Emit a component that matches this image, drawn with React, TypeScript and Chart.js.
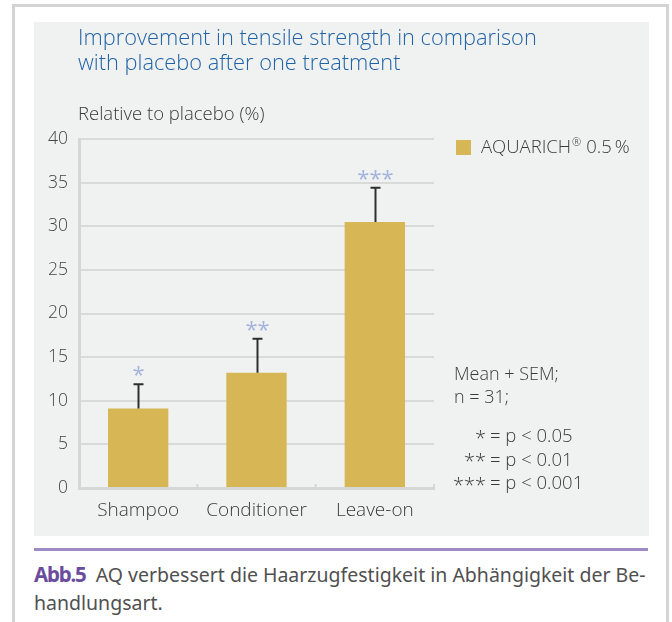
import React, { useEffect, useRef } from "react";
import { Chart, registerables } from "chart.js";

Chart.register(...registerables);

const categories = ["Shampoo", "Conditioner", "Leave-on"];
const meanValues = [9.1, 13.2, 30.5];
const semValues = [2.8, 3.9, 3.9];
const significance = ["*", "**", "***"];
const seriesLabel = "AQUARICH";
const yTicks = [0, 5, 10, 15, 20, 25, 30, 35, 40];
const titleLines = ["Improvement in tensile strength in comparison", "with placebo after one treatment"];
const yTitle = "Relative to placebo (%)";
const noteLines = ["Mean + SEM;", "n = 31;"];
const pLegend = [["*", "= p < 0.05"], ["**", "= p < 0.01"], ["***", "= p < 0.001"]];

const FONT = "'Open Sans', 'Noto Sans', sans-serif";
const BAR = "#d6b655";
const TEXT = "#3a3a3a";

const overlayPlugin = {
  id: "overlay",
  afterDatasetsDraw(chart: any) {
    const ctx = chart.ctx;
    const x = chart.scales.x;
    const y = chart.scales.y;
    const area = chart.chartArea;
    ctx.save();
    ctx.strokeStyle = "#d6d6d6";
    ctx.lineWidth = 2;
    const step = x.getPixelForValue(1) - x.getPixelForValue(0);
    for (let i = 0; i < categories.length; i++) {
      const bx = x.getPixelForValue(i) + step / 2;
      ctx.beginPath();
      ctx.moveTo(bx, area.bottom);
      ctx.lineTo(bx, area.bottom - 4);
      ctx.stroke();
    }
    ctx.strokeStyle = "#2e2e2e";
    ctx.lineWidth = 2;
    for (let i = 0; i < meanValues.length; i++) {
      const cx = Math.round(x.getPixelForValue(i)) + 0.5;
      const top = y.getPixelForValue(meanValues[i] + semValues[i]);
      const base = y.getPixelForValue(meanValues[i]);
      ctx.beginPath();
      ctx.moveTo(cx, base);
      ctx.lineTo(cx, top);
      ctx.moveTo(cx - 5, top);
      ctx.lineTo(cx + 5, top);
      ctx.stroke();
      ctx.fillStyle = "#a3b3dc";
      ctx.font = `400 22px ${FONT}`;
      ctx.textAlign = "center";
      ctx.textBaseline = "alphabetic";
      ctx.fillText(significance[i], cx, top - 2);
    }
    ctx.restore();
  },
  afterDraw(chart: any) {
    const ctx = chart.ctx;
    const area = chart.chartArea;
    ctx.save();
    ctx.textBaseline = "middle";
    ctx.textAlign = "left";
    ctx.fillStyle = "#2263a6";
    ctx.font = `300 21.8px ${FONT}`;
    ctx.fillText(titleLines[0], 44, 17);
    ctx.fillText(titleLines[1], 44, 42);
    ctx.fillStyle = TEXT;
    ctx.font = `300 18.5px ${FONT}`;
    ctx.fillText(yTitle, 44, 93);
    const lx = area.right + 22;
    const ly = area.top + 8;
    ctx.fillStyle = chart.data.datasets[0].backgroundColor;
    ctx.fillRect(lx, ly - 7, 15, 15);
    ctx.fillStyle = TEXT;
    ctx.font = `300 18.5px ${FONT}`;
    const t1 = chart.data.datasets[0].label;
    ctx.fillText(t1, lx + 25, ly + 1);
    const w = ctx.measureText(t1).width;
    ctx.font = `300 11px ${FONT}`;
    ctx.fillText("®", lx + 25 + w + 1, ly - 4);
    const w2 = ctx.measureText("®").width;
    ctx.font = `300 18.5px ${FONT}`;
    ctx.fillText("0.5\u2009%", lx + 25 + w + w2 + 6, ly + 1);
    const nx = area.right + 20;
    ctx.font = `300 18px ${FONT}`;
    ctx.fillText(noteLines[0], nx, 353);
    ctx.fillText(noteLines[1], nx, 376);
    for (let i = 0; i < pLegend.length; i++) {
      const yy = 415 + i * 23.5;
      ctx.textAlign = "right";
      ctx.font = `300 20px ${FONT}`;
      ctx.fillText(pLegend[i][0], nx + 32, yy + 2);
      ctx.textAlign = "left";
      ctx.font = `300 18.5px ${FONT}`;
      ctx.fillText(pLegend[i][1], nx + 36, yy);
    }
    ctx.restore();
  },
};

export default function App() {
  const ref = useRef<HTMLCanvasElement>(null);
  useEffect(() => {
    document.body.style.margin = "0";
    const chart = new Chart(ref.current as HTMLCanvasElement, {
      type: "bar",
      data: {
        labels: categories,
        datasets: [
          {
            label: seriesLabel,
            data: meanValues,
            backgroundColor: BAR,
            borderWidth: 0,
            categoryPercentage: 1,
            barPercentage: 0.51,
          },
        ],
      },
      options: {
        animation: false,
        responsive: false,
        events: [],
        layout: { padding: { top: 117, right: 215, left: 0, bottom: 0 } },
        plugins: { legend: { display: false }, tooltip: { enabled: false }, title: { display: false } },
        scales: {
          x: {
            grid: { display: false, drawTicks: false },
            border: { display: true, color: "#d6d6d6", width: 3 },
            ticks: { color: TEXT, font: { family: FONT, size: 19, weight: "300" as any }, padding: 11 },
            afterFit: (s: any) => { s.height = 48; },
          },
          y: {
            min: 0,
            max: 40,
            afterBuildTicks: (s: any) => { s.ticks = yTicks.map((v) => ({ value: v })); },
            grid: { color: "#dadada", lineWidth: 2, drawTicks: false },
            border: { display: true, color: "#d6d6d6", width: 3 },
            ticks: { color: "#444", font: { family: FONT, size: 17.5, weight: "300" as any }, padding: 11 },
            afterFit: (s: any) => { s.width = 45; },
          },
        },
      },
      plugins: [overlayPlugin],
    });
    return () => chart.destroy();
  }, []);

  return (
    <div style={{ position: "relative", width: 672, height: 622, background: "#fff", overflow: "hidden" }}>
      <div style={{ position: "absolute", left: 12, top: 4, width: 651, height: 640, border: "3px solid #d4d4d4", borderBottom: "none" }} />
      <div style={{ position: "absolute", left: 34, top: 22, width: 615, height: 514, background: "#f0f2f2" }}>
        <canvas ref={ref} width={615} height={514} style={{ display: "block" }} />
      </div>
      <div style={{ position: "absolute", left: 34, top: 548, width: 614, height: 3, background: "#9d8bc6" }} />
      <div style={{ position: "absolute", left: 34, top: 560, width: 630, whiteSpace: "nowrap", fontFamily: "'Noto Sans', sans-serif", fontSize: 19.5, lineHeight: "28px", color: "#505050" }}>
        <span style={{ color: "#6a4c9e", fontWeight: 700, fontSize: 20.5, letterSpacing: "-1.2px" }}>Abb.5</span>&nbsp;&nbsp;AQ verbessert die Haarzugfestigkeit in Abhängigkeit der Be-<br />handlungsart.
      </div>
    </div>
  );
}
